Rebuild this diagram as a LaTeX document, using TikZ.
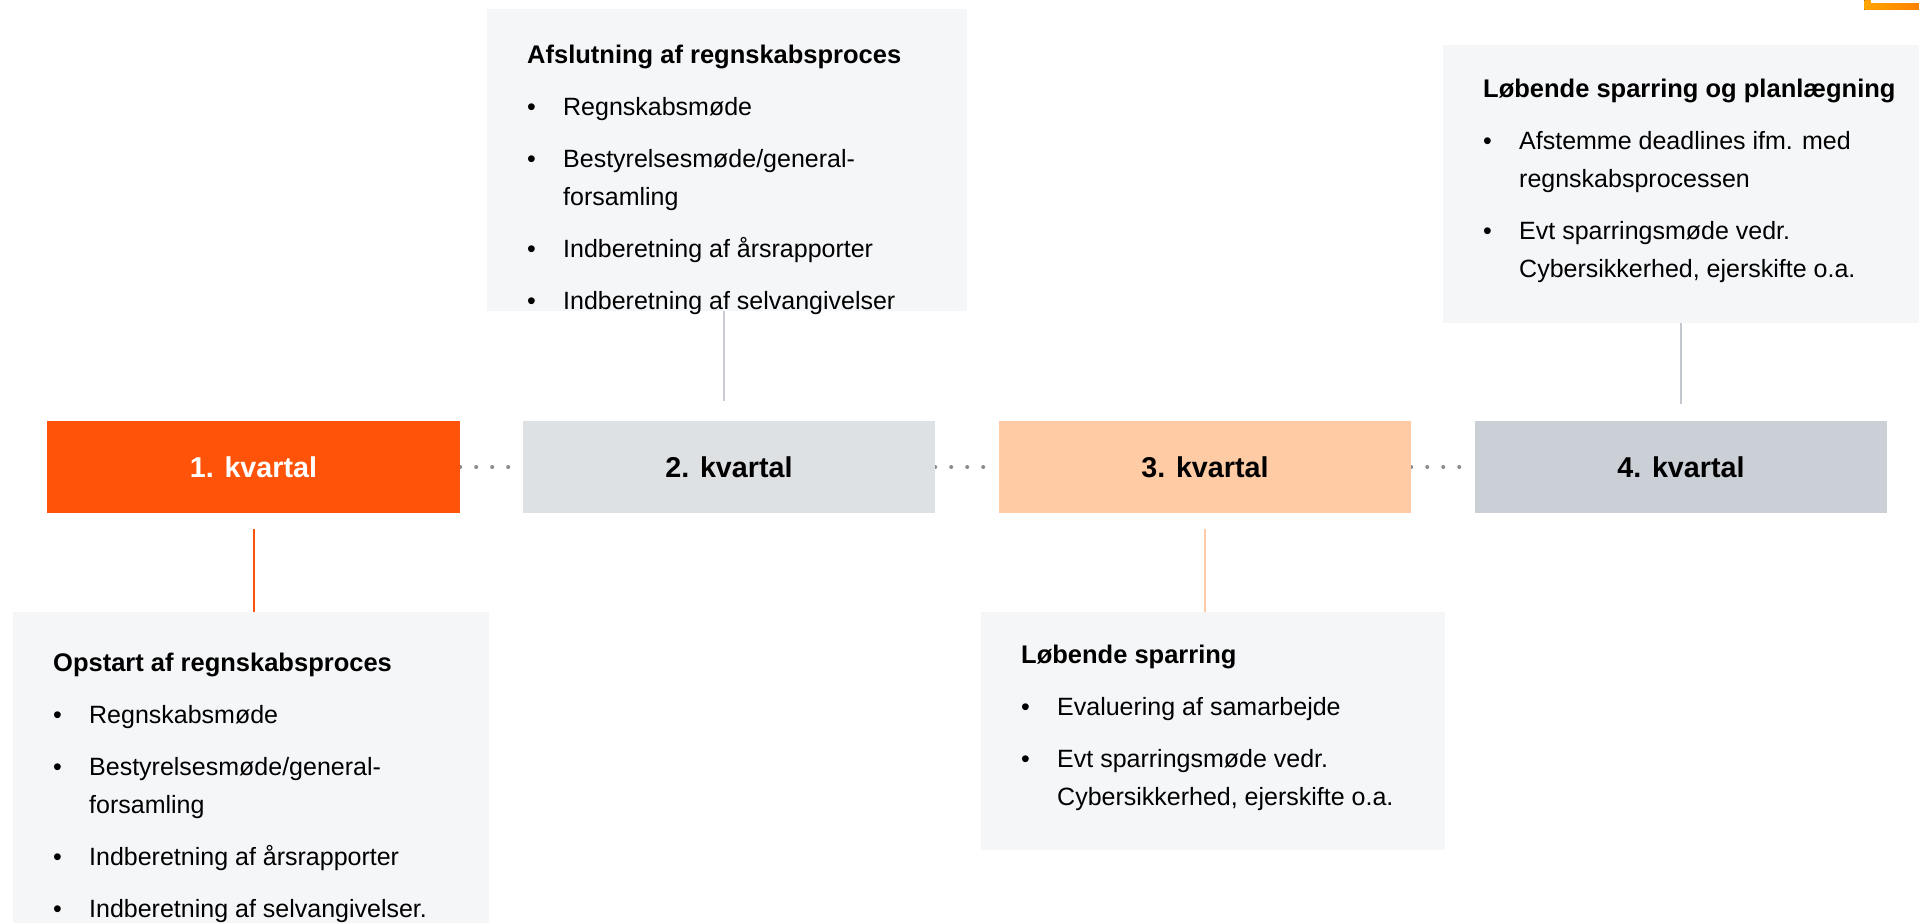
\documentclass[tikz,border=0pt]{standalone}
\usepackage{fontspec}
\setmainfont{Liberation Sans}
\usetikzlibrary{calc,backgrounds}
\definecolor{qone}{HTML}{FF530A}
\definecolor{qtwo}{HTML}{DEE1E4}
\definecolor{qthree}{HTML}{FFCBA4}
\definecolor{qfour}{HTML}{CBCFD6}
\definecolor{boxgray}{HTML}{F5F6F8}
\definecolor{linetwo}{HTML}{C9CDD3}
\definecolor{linefour}{HTML}{C3C7CE}
\definecolor{dotgray}{HTML}{8C8C8C}
\newcommand{\hd}[1]{\multicolumn{2}{@{}l@{}}{\fontsize{25.5}{38}\selectfont\bfseries #1}}
\tikzset{
  quarter/.style={minimum width=412pt, minimum height=92pt, inner sep=0pt, font=\fontsize{28.7}{34}\selectfont\bfseries},
  detail/.style={fill=boxgray, anchor=north west, inner sep=0pt},
  itemtext/.style={anchor=base west, inner sep=0pt, font=\fontsize{25}{38}\selectfont},
  link/.style={line width=2pt},
  dots/.style={draw=dotgray, line width=4pt, line cap=round, dash pattern=on 0pt off 16pt}
}

\begin{document}
\begin{tikzpicture}[x=1pt,y=-1pt]
\useasboundingbox (0,0) rectangle (1919,923);
\clip (0,0) rectangle (1919,923);

\node (q1) at (253.5,467)[quarter,fill=qone,minimum width=413pt,text=white] {1. kvartal};
\node (q2) at (729,467)[quarter,fill=qtwo] {2. kvartal};
\node (q3) at (1205,467)[quarter,fill=qthree] {3. kvartal};
\node (q4) at (1681,467)[quarter,fill=qfour] {4. kvartal};

\node (d1) at (13,612)[detail,minimum width=476pt,minimum height=320pt] {};
\node (d2) at (487,9)[detail,minimum width=480pt,minimum height=302pt] {};
\node (d3) at (981,612)[detail,minimum width=464pt,minimum height=238pt] {};
\node (d4) at (1443,45)[detail,minimum width=480pt,minimum height=278pt] {};

\node (t1) at ($(d1.north west)+(40,59)$)[itemtext] {\begin{tabular}[t]{@{}p{36pt}@{}l@{}}
\hd{Opstart af regnskabsproces}\\[14pt]
\textbullet & Regnskabsmøde\\[14pt]
\textbullet & Bestyrelsesmøde/general-\\
 & forsamling\\[14pt]
\textbullet & Indberetning af årsrapporter\\[14pt]
\textbullet & Indberetning af selvangivelser.
\end{tabular}};
\node (t2) at ($(d2.north west)+(40,55)$)[itemtext] {\begin{tabular}[t]{@{}p{36pt}@{}l@{}}
\hd{Afslutning af regnskabsproces}\\[14pt]
\textbullet & Regnskabsmøde\\[14pt]
\textbullet & Bestyrelsesmøde/general-\\
 & forsamling\\[14pt]
\textbullet & Indberetning af årsrapporter\\[14pt]
\textbullet & Indberetning af selvangivelser
\end{tabular}};
\node (t3) at ($(d3.north west)+(40,51)$)[itemtext] {\begin{tabular}[t]{@{}p{36pt}@{}l@{}}
\hd{Løbende sparring}\\[14pt]
\textbullet & Evaluering af samarbejde\\[14pt]
\textbullet & Evt sparringsmøde vedr.\\
 & Cybersikkerhed, ejerskifte o.a.
\end{tabular}};
\node (t4) at ($(d4.north west)+(40,53)$)[itemtext] {\begin{tabular}[t]{@{}p{36pt}@{}l@{}}
\hd{Løbende sparring og planlægning}\\[14pt]
\textbullet & Afstemme deadlines ifm. med\\
 & regnskabsprocessen\\[14pt]
\textbullet & Evt sparringsmøde vedr.\\
 & Cybersikkerhed, ejerskifte o.a.
\end{tabular}};

\draw [link,draw=qone,shorten <=16pt] (q1.south) -- (q1.south |- d1.north);
\draw [link,draw=linetwo,shorten <=20pt] ([xshift=-5pt]q2.north) -- ([xshift=-5pt]q2.north |- d2.south);
\draw [link,draw=qthree,shorten <=16pt] (q3.south) -- (q3.south |- d3.north);
\draw [link,draw=linefour,shorten <=17pt] (q4.north) -- (q4.north |- d4.south);

\begin{scope}[on background layer]
\fill[white] (0,0) rectangle (1919,923);
\draw [dots] (q1) -- (q2);
\draw [dots] (q2) -- (q3);
\draw [dots] (q3) -- (q4);
\end{scope}

\fill [left color=orange!70!yellow,right color=orange] (1864.3,0) rectangle (1919,10);
\fill [white] (1871,0) rectangle (1919,3.3);
\end{tikzpicture}
\end{document}
